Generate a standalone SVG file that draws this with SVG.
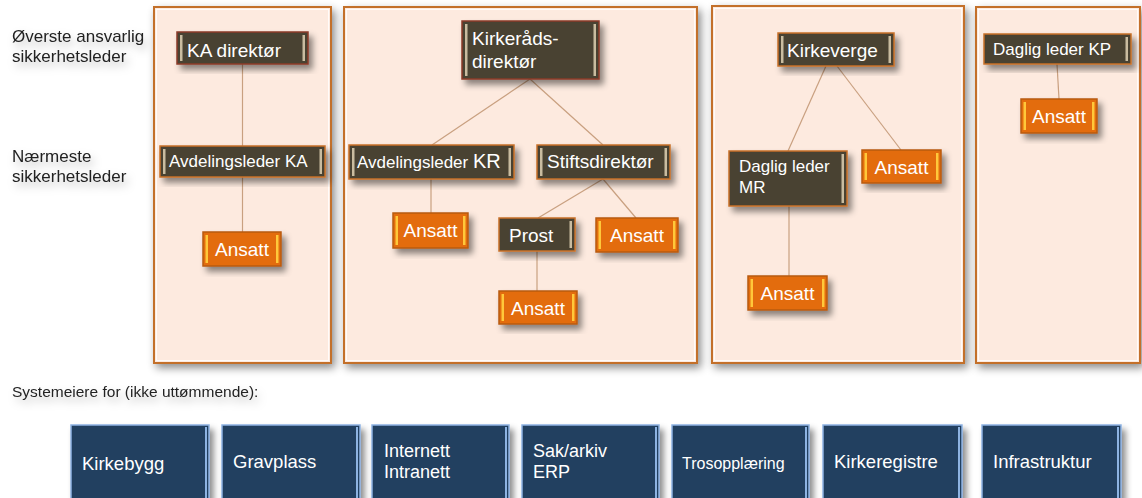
<svg xmlns="http://www.w3.org/2000/svg" width="1142" height="498" viewBox="0 0 1142 498">
<defs>
<filter id="sh" x="-10%" y="-10%" width="130%" height="140%">
<feDropShadow dx="4" dy="5" stdDeviation="3" flood-color="#000" flood-opacity="0.45"/>
</filter>
<filter id="psh" x="-5%" y="-5%" width="112%" height="112%">
<feDropShadow dx="3" dy="4" stdDeviation="4" flood-color="#000" flood-opacity="0.45"/>
</filter>
<filter id="tsh" x="-10%" y="-20%" width="130%" height="180%">
<feDropShadow dx="3" dy="5" stdDeviation="4" flood-color="#000" flood-opacity="0.25"/>
</filter>
<style>
.panel{fill:#fdeadf;stroke:#c36f2a;stroke-width:2;filter:url(#psh)}
.pin{fill:none;stroke:#fff;stroke-width:1;opacity:0.8}
.dk{fill:#4a4330;stroke:#c8702a;stroke-width:1.5;filter:url(#sh)}
.dkr{fill:#4a4330;stroke:#8b3a2a;stroke-width:1.5;filter:url(#sh)}
.dks{fill:#c9bca0}
.or{fill:#e36c0a;stroke:#b85a12;stroke-width:1.5;filter:url(#sh)}
.ors{fill:#ffc83a}
.bl{fill:#243f60;stroke:#8db3e2;stroke-width:1.5;filter:url(#sh)}
.bls{fill:#8db3e2}
.t{font-family:"Liberation Sans",Arial,sans-serif;fill:#fff}
.lbl{font-family:"Liberation Sans",Arial,sans-serif;fill:#222;filter:url(#tsh)}
.c{stroke:#c9a080;stroke-width:1.2;fill:none}
</style>
</defs>

<g id="panels">
<rect class="panel" x="154" y="7" width="177" height="356"/>
<rect class="pin" x="156.5" y="9.5" width="172" height="351"/>
<rect class="panel" x="344" y="7" width="353" height="356"/>
<rect class="pin" x="346.5" y="9.5" width="348" height="351"/>
<rect class="panel" x="712" y="6" width="252" height="357"/>
<rect class="pin" x="714.5" y="8.5" width="247" height="352"/>
<rect class="panel" x="976" y="7" width="164" height="356"/>
<rect class="pin" x="978.5" y="9.5" width="159" height="351"/>
</g>

<g id="labels">
<text class="lbl" x="12" y="42" font-size="17">Øverste ansvarlig</text>
<text class="lbl" x="12" y="62" font-size="17">sikkerhetsleder</text>
<text class="lbl" x="12" y="162" font-size="17">Nærmeste</text>
<text class="lbl" x="12" y="182" font-size="17">sikkerhetsleder</text>
<text class="lbl" x="12" y="397" font-size="15.5">Systemeiere for (ikke uttømmende):</text>
</g>

<g id="connectors">
<line class="c" x1="242.5" y1="64" x2="242.5" y2="146"/>
<line class="c" x1="242.5" y1="177" x2="242.5" y2="232"/>
<line class="c" x1="530" y1="79" x2="432" y2="145"/>
<line class="c" x1="530" y1="79" x2="603" y2="145"/>
<line class="c" x1="431" y1="179" x2="431" y2="213"/>
<line class="c" x1="603" y1="179" x2="538" y2="218"/>
<line class="c" x1="603" y1="179" x2="636" y2="218"/>
<line class="c" x1="537" y1="251" x2="537" y2="291"/>
<line class="c" x1="826" y1="66" x2="788" y2="151"/>
<line class="c" x1="837" y1="66" x2="901" y2="150"/>
<line class="c" x1="789" y1="187" x2="789" y2="276"/>
<line class="c" x1="1057" y1="64" x2="1059" y2="99"/>
</g>

<g id="n-ka-direktor">
<rect class="dkr" x="177" y="32" width="131" height="32"/>
<rect class="dks" x="180" y="35" width="2.5" height="26"/>
<rect class="dks" x="302.5" y="35" width="2.5" height="26"/>
<text class="t" x="187" y="57" font-size="19">KA direktør</text>
</g>
<g id="n-avd-ka">
<rect class="dk" x="160" y="146" width="165" height="31"/>
<rect class="dks" x="163" y="149" width="2.5" height="25"/>
<rect class="dks" x="319.5" y="149" width="2.5" height="25"/>
<text class="t" x="169" y="167" font-size="17">Avdelingsleder KA</text>
</g>
<g id="n-ansatt-ka">
<rect class="or" x="203" y="232" width="78" height="34"/>
<rect class="ors" x="205.5" y="235" width="2.5" height="28"/>
<rect class="ors" x="276" y="235" width="2.5" height="28"/>
<text class="t" x="242" y="256" font-size="19" text-anchor="middle">Ansatt</text>
</g>

<g id="n-kirkerads">
<rect class="dkr" x="462" y="21" width="137" height="58"/>
<rect class="dks" x="465" y="24" width="2.5" height="52"/>
<rect class="dks" x="593.5" y="24" width="2.5" height="52"/>
<text class="t" x="472" y="45" font-size="19">Kirkeråds-</text>
<text class="t" x="472" y="68" font-size="19">direktør</text>
</g>
<g id="n-avd-kr">
<rect class="dk" x="349" y="145" width="165" height="34"/>
<rect class="dks" x="352" y="148" width="2.5" height="28"/>
<rect class="dks" x="508.5" y="148" width="2.5" height="28"/>
<text class="t" x="357" y="168" font-size="17">Avdelingsleder <tspan font-size="20">KR</tspan></text>
</g>
<g id="n-stiftsdirektor">
<rect class="dk" x="537" y="145" width="133" height="34"/>
<rect class="dks" x="540" y="148" width="2.5" height="28"/>
<rect class="dks" x="664.5" y="148" width="2.5" height="28"/>
<text class="t" x="547" y="168" font-size="19">Stiftsdirektør</text>
</g>
<g id="n-ansatt-kr">
<rect class="or" x="393" y="213" width="75" height="35"/>
<rect class="ors" x="395.5" y="216" width="2.5" height="29"/>
<rect class="ors" x="463" y="216" width="2.5" height="29"/>
<text class="t" x="430.5" y="237" font-size="19" text-anchor="middle">Ansatt</text>
</g>
<g id="n-prost">
<rect class="dk" x="499" y="218" width="76" height="33"/>
<rect class="dks" x="569.5" y="221" width="2.5" height="27"/>
<text class="t" x="509" y="242" font-size="19">Prost</text>
</g>
<g id="n-ansatt-stift">
<rect class="or" x="596" y="218" width="82" height="34"/>
<rect class="ors" x="598.5" y="221" width="2.5" height="28"/>
<rect class="ors" x="673" y="221" width="2.5" height="28"/>
<text class="t" x="637" y="242" font-size="19" text-anchor="middle">Ansatt</text>
</g>
<g id="n-ansatt-prost">
<rect class="or" x="499" y="291" width="78" height="33"/>
<rect class="ors" x="501.5" y="294" width="2.5" height="27"/>
<rect class="ors" x="572" y="294" width="2.5" height="27"/>
<text class="t" x="538" y="315" font-size="19" text-anchor="middle">Ansatt</text>
</g>

<g id="n-kirkeverge">
<rect class="dk" x="778" y="33" width="116" height="33"/>
<rect class="dks" x="781" y="36" width="2.5" height="27"/>
<rect class="dks" x="888.5" y="36" width="2.5" height="27"/>
<text class="t" x="787" y="57" font-size="19">Kirkeverge</text>
</g>
<g id="n-daglig-mr">
<rect class="dk" x="729" y="151" width="118" height="55"/>
<rect class="dks" x="841.5" y="154" width="2.5" height="49"/>
<text class="t" x="739" y="172" font-size="17">Daglig leder</text>
<text class="t" x="739" y="193" font-size="17">MR</text>
</g>
<g id="n-ansatt-kv">
<rect class="or" x="862" y="150" width="79" height="33"/>
<rect class="ors" x="864.5" y="153" width="2.5" height="27"/>
<rect class="ors" x="936" y="153" width="2.5" height="27"/>
<text class="t" x="901.5" y="174" font-size="19" text-anchor="middle">Ansatt</text>
</g>
<g id="n-ansatt-mr">
<rect class="or" x="748" y="276" width="79" height="34"/>
<rect class="ors" x="750.5" y="279" width="2.5" height="28"/>
<rect class="ors" x="822" y="279" width="2.5" height="28"/>
<text class="t" x="787.5" y="300" font-size="19" text-anchor="middle">Ansatt</text>
</g>

<g id="n-daglig-kp">
<rect class="dk" x="984" y="34" width="147" height="30"/>
<rect class="dks" x="1125.5" y="37" width="2.5" height="24"/>
<text class="t" x="993" y="55" font-size="17">Daglig leder KP</text>
</g>
<g id="n-ansatt-kp">
<rect class="or" x="1021" y="99" width="76" height="34"/>
<rect class="ors" x="1023.5" y="102" width="2.5" height="28"/>
<rect class="ors" x="1092" y="102" width="2.5" height="28"/>
<text class="t" x="1059" y="123" font-size="19" text-anchor="middle">Ansatt</text>
</g>

<g id="s-kirkebygg">
<rect class="bl" x="71" y="425" width="138" height="76"/>
<rect class="bls" x="205" y="427" width="2" height="72"/>
<text class="t" x="82" y="470" font-size="18.5">Kirkebygg</text>
</g>
<g id="s-gravplass">
<rect class="bl" x="222" y="425" width="138" height="76"/>
<rect class="bls" x="356" y="427" width="2" height="72"/>
<text class="t" x="233" y="468" font-size="18.5">Gravplass</text>
</g>
<g id="s-internett">
<rect class="bl" x="372" y="425" width="137" height="76"/>
<rect class="bls" x="505" y="427" width="2" height="72"/>
<text class="t" x="384" y="457" font-size="18">Internett</text>
<text class="t" x="384" y="478" font-size="18">Intranett</text>
</g>
<g id="s-sakarkiv">
<rect class="bl" x="522" y="425" width="137" height="76"/>
<rect class="bls" x="655" y="427" width="2" height="72"/>
<text class="t" x="533" y="457" font-size="18">Sak/arkiv</text>
<text class="t" x="533" y="478" font-size="18">ERP</text>
</g>
<g id="s-tros">
<rect class="bl" x="672" y="425" width="137" height="76"/>
<rect class="bls" x="805" y="427" width="2" height="72"/>
<text class="t" x="682" y="469" font-size="16">Trosopplæring</text>
</g>
<g id="s-kirkeregistre">
<rect class="bl" x="823" y="425" width="139" height="76"/>
<rect class="bls" x="958" y="427" width="2" height="72"/>
<text class="t" x="834" y="468" font-size="18.5">Kirkeregistre</text>
</g>
<g id="s-infrastruktur">
<rect class="bl" x="982" y="425" width="139" height="76"/>
<rect class="bls" x="1117" y="427" width="2" height="72"/>
<text class="t" x="993" y="468" font-size="18.5">Infrastruktur</text>
</g>
</svg>
